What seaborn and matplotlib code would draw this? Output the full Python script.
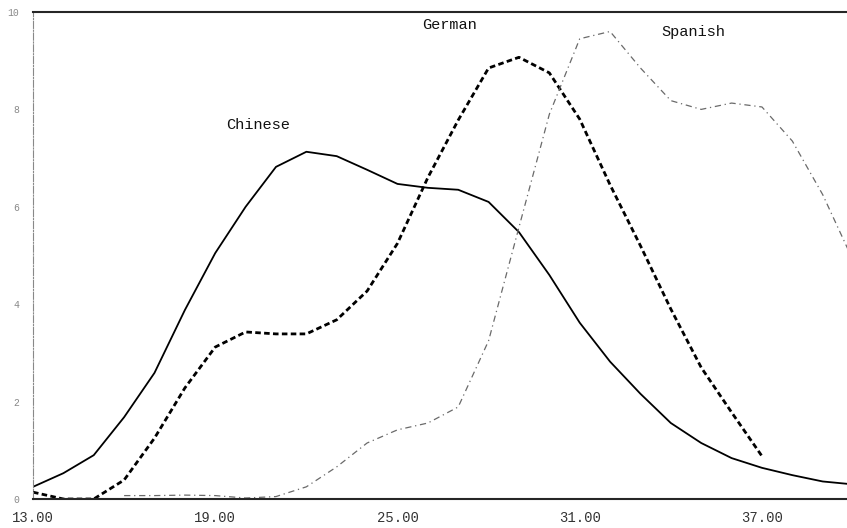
# Curvas de distribución por idioma (Chinese / German / Spanish)
import pandas as pd
import matplotlib
matplotlib.use("Agg")
import matplotlib.pyplot as plt
import seaborn as sns

# Datos
chinese_x = list(range(13, 41))
chinese_y = [0.25, 0.53, 0.9, 1.68, 2.59, 3.88, 5.05, 6.0, 6.82, 7.13, 7.04, 6.76,
             6.47, 6.39, 6.35, 6.1, 5.48, 4.6, 3.62, 2.82, 2.16, 1.56, 1.15, 0.84,
             0.64, 0.49, 0.36, 0.3]

german_x = list(range(13, 38))
german_y = [0.14, 0.0, 0.0, 0.39, 1.25, 2.28, 3.12, 3.43, 3.39, 3.39, 3.68, 4.27,
            5.25, 6.6, 7.78, 8.85, 9.07, 8.75, 7.8, 6.45, 5.2, 3.9, 2.7, 1.78, 0.88]

spanish_x = list(range(16, 41))
spanish_y = [0.07, 0.07, 0.08, 0.07, 0.02, 0.05, 0.25, 0.66, 1.15, 1.42, 1.56, 1.89,
             3.25, 5.58, 7.9, 9.45, 9.6, 8.85, 8.18, 8.0, 8.13, 8.05, 7.35, 6.25, 4.9]

x_ticks = [13, 19, 25, 31, 37]
y_ticks = [0, 2, 4, 6, 8, 10]

# etiquetas de las curvas (texto, x, y)
labels = [("Chinese", 20.4, 7.68), ("German", 26.7, 9.73), ("Spanish", 34.75, 9.59)]

sns.set_style("white")
plt.rcParams["font.family"] = ["Liberation Mono", "DejaVu Sans Mono"]

fig = plt.figure(figsize=(8.47, 5.28), dpi=100)
ax = fig.add_axes([33 / 847, 1 - 499 / 528, 1 - 33 / 847, (499 - 12) / 528])

df_c = pd.DataFrame({"x": chinese_x, "y": chinese_y})
df_g = pd.DataFrame({"x": german_x, "y": german_y})
df_s = pd.DataFrame({"x": spanish_x, "y": spanish_y})

sns.lineplot(data=df_c, x="x", y="y", ax=ax, color="black", linewidth=1.3)
sns.lineplot(data=df_g, x="x", y="y", ax=ax, color="black", linewidth=2.0)
sns.lineplot(data=df_s, x="x", y="y", ax=ax, color="#6a6a6a", linewidth=0.9)
ax.lines[1].set_linestyle((0, (2, 1.2)))
ax.lines[2].set_linestyle((0, (5, 3, 1, 3)))

for txt, tx, ty in labels:
    ax.text(tx, ty, txt, ha="center", va="center", fontsize=11, color="#111111")

ax.set_xlim(13, 39.8)
ax.set_ylim(0, 10)
ax.set_xticks(x_ticks)
ax.set_xticklabels([f"{v:.2f}" for v in x_ticks], fontsize=10, color="#333333")
ax.set_yticks(y_ticks)
ax.set_yticklabels([str(v) for v in y_ticks], fontsize=7, color="#888888")
ax.set_xlabel("")
ax.set_ylabel("")
ax.tick_params(axis="x", direction="out", length=4, width=1, pad=5)
ax.tick_params(axis="y", direction="inout", length=6, width=1, pad=7)

ax.spines["right"].set_visible(False)
ax.spines["top"].set_linewidth(1.5)
ax.spines["bottom"].set_linewidth(1.5)
ax.spines["left"].set_linestyle("-.")
ax.spines["left"].set_color("#888888")
ax.spines["left"].set_linewidth(0.8)

fig.savefig("out.png", dpi=100)
